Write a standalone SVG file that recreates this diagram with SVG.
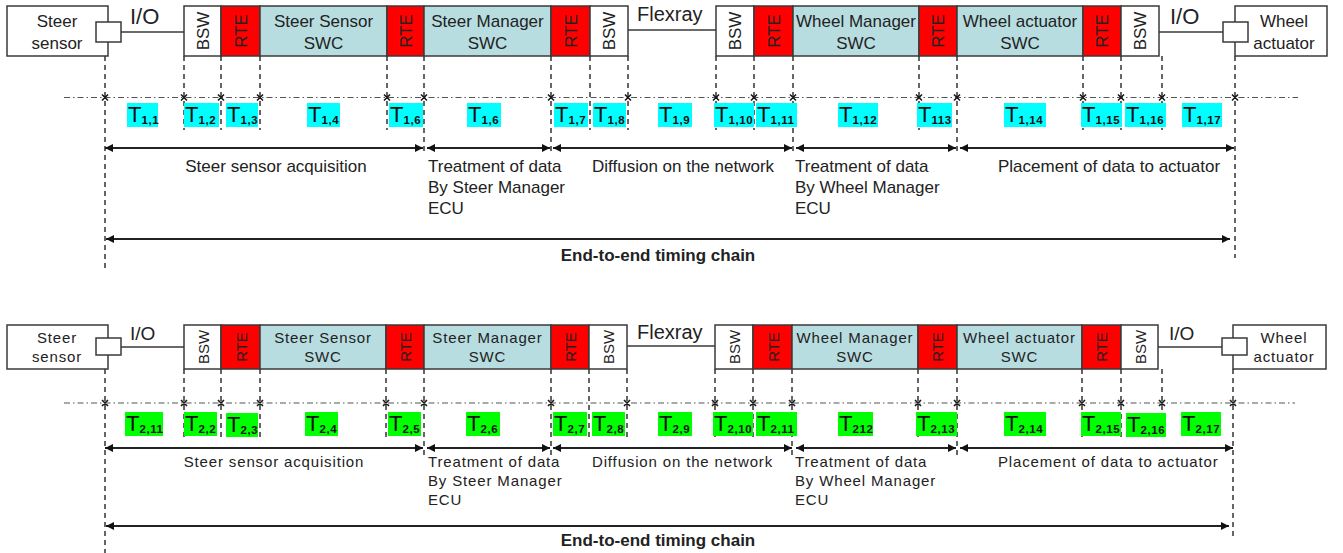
<svg xmlns="http://www.w3.org/2000/svg" width="1343" height="553" viewBox="0 0 1343 553">
<defs>
<style>
.bx{stroke:#3a3a3a;stroke-width:1.5}
.wh{fill:#ffffff}
.swc{fill:#b7dde0}
.rte{fill:#ff0000}
.f{font-family:"Liberation Sans",Arial,sans-serif;fill:#222}
.s17{font-size:17px}
.s15{font-size:15px;letter-spacing:0.85px}
.c{text-anchor:middle}
.vd{stroke:#333;stroke-width:1.5;stroke-dasharray:5 4;fill:none}
.dd{stroke:#555;stroke-width:1.2;stroke-dasharray:6 3 1.5 3;fill:none}
.xm{stroke:#1a1a1a;stroke-width:1.6;fill:none}
.ar{stroke:#222;stroke-width:1.8;marker-start:url(#ah);marker-end:url(#ah)}
.ln{stroke:#3a3a3a;stroke-width:1.5;fill:none}
.cy{fill:#00ffff}
.gr{fill:#00ff00}
.tl{font-family:"Liberation Sans",Arial,sans-serif;font-size:22px;fill:#111}
.sb{font-size:11.5px;font-weight:bold;letter-spacing:0.6px}
.b{font-weight:bold}
</style>
<marker id="ah" viewBox="0 0 10 10" refX="10" refY="5" markerWidth="9" markerHeight="8" markerUnits="userSpaceOnUse" orient="auto-start-reverse">
<path d="M0,0 L10,5 L0,10 z" fill="#111"/>
</marker>
</defs>
<rect width="1343" height="553" fill="#ffffff"/>

<!-- ================= PANEL 1 ================= -->
<g id="p1-guides">
<path class="vd" d="M105,56V268 M1235,56V258 M424,56V155 M551,56V155 M793,56V155 M957,56V155 M184,56V130 M221,56V130 M260,56V130 M387,56V130 M590,56V130 M628,56V130 M716,56V130 M754,56V130 M919,56V130 M1083,56V130 M1121,56V130 M1162,56V130"/>
<path class="dd" d="M64,97.5H1298"/>
<path class="xm" d="M102,94.5l6,6m0,-6l-6,6 M181,94.5l6,6m0,-6l-6,6 M218,94.5l6,6m0,-6l-6,6 M257,94.5l6,6m0,-6l-6,6 M384,94.5l6,6m0,-6l-6,6 M421,94.5l6,6m0,-6l-6,6 M548,94.5l6,6m0,-6l-6,6 M625,94.5l6,6m0,-6l-6,6 M713,94.5l6,6m0,-6l-6,6 M751,94.5l6,6m0,-6l-6,6 M790,94.5l6,6m0,-6l-6,6 M916,94.5l6,6m0,-6l-6,6 M954,94.5l6,6m0,-6l-6,6 M1080,94.5l6,6m0,-6l-6,6 M1118,94.5l6,6m0,-6l-6,6 M1159,94.5l6,6m0,-6l-6,6 M1232,94.5l6,6m0,-6l-6,6"/>
</g>

<g id="p1-connectors">
<path class="ln" d="M121,32H184 M628,30H716 M1159,32H1223"/>
</g>

<g id="p1-steer-sensor">
<rect class="bx wh" x="7" y="6" width="101" height="50"/>
<rect class="bx wh" x="96" y="22" width="25" height="20"/>
<text class="f s17 c" x="57" y="27">Steer</text>
<text class="f s17 c" x="57" y="49">sensor</text>
</g>
<text class="f" x="130" y="24" font-size="22">I/O</text>
<g id="p1-bsw1"><rect class="bx wh" x="184" y="6" width="37" height="50"/><text class="f s17 c" transform="translate(203,31) rotate(-90)" y="6">BSW</text></g>
<g id="p1-rte1"><rect class="bx rte" x="221" y="6" width="39" height="50"/><text class="f s17 c" transform="translate(241,31) rotate(-90)" y="6">RTE</text></g>
<g id="p1-steer-sensor-swc"><rect class="bx swc" x="260" y="6" width="127" height="50"/><text class="f s17 c" x="323.5" y="27">Steer Sensor</text><text class="f s17 c" x="323.5" y="49">SWC</text></g>
<g id="p1-rte2"><rect class="bx rte" x="387" y="6" width="37" height="50"/><text class="f s17 c" transform="translate(406,31) rotate(-90)" y="6">RTE</text></g>
<g id="p1-steer-manager-swc"><rect class="bx swc" x="424" y="6" width="127" height="50"/><text class="f s17 c" x="487.5" y="27">Steer Manager</text><text class="f s17 c" x="487.5" y="49">SWC</text></g>
<g id="p1-rte3"><rect class="bx rte" x="551" y="6" width="39" height="50"/><text class="f s17 c" transform="translate(571,31) rotate(-90)" y="6">RTE</text></g>
<g id="p1-bsw2"><rect class="bx wh" x="590" y="6" width="38" height="50"/><text class="f s17 c" transform="translate(609,31) rotate(-90)" y="6">BSW</text></g>
<text class="f" x="637" y="21" font-size="20">Flexray</text>
<g id="p1-bsw3"><rect class="bx wh" x="716" y="6" width="38" height="50"/><text class="f s17 c" transform="translate(735,31) rotate(-90)" y="6">BSW</text></g>
<g id="p1-rte4"><rect class="bx rte" x="754" y="6" width="39" height="50"/><text class="f s17 c" transform="translate(774,31) rotate(-90)" y="6">RTE</text></g>
<g id="p1-wheel-manager-swc"><rect class="bx swc" x="793" y="6" width="126" height="50"/><text class="f s17 c" x="856" y="27">Wheel Manager</text><text class="f s17 c" x="856" y="49">SWC</text></g>
<g id="p1-rte5"><rect class="bx rte" x="919" y="6" width="38" height="50"/><text class="f s17 c" transform="translate(938,31) rotate(-90)" y="6">RTE</text></g>
<g id="p1-wheel-actuator-swc"><rect class="bx swc" x="957" y="6" width="126" height="50"/><text class="f s17 c" x="1020" y="27">Wheel actuator</text><text class="f s17 c" x="1020" y="49">SWC</text></g>
<g id="p1-rte6"><rect class="bx rte" x="1083" y="6" width="38" height="50"/><text class="f s17 c" transform="translate(1102,31) rotate(-90)" y="6">RTE</text></g>
<g id="p1-bsw4"><rect class="bx wh" x="1121" y="6" width="38" height="50"/><text class="f s17 c" transform="translate(1140,31) rotate(-90)" y="6">BSW</text></g>
<text class="f" x="1170" y="24" font-size="22">I/O</text>
<g id="p1-wheel-actuator">
<rect class="bx wh" x="1235" y="6" width="92" height="50"/>
<rect class="bx wh" x="1223" y="22" width="25" height="20"/>
<text class="f s17 c" x="1284" y="27">Wheel</text>
<text class="f s17 c" x="1284" y="49">actuator</text>
</g>

<g id="p1-tlabels">
<rect class="cy" x="127" y="103" width="31" height="24"/><text class="tl" x="128" y="122">T<tspan class="sb" dy="2">1,1</tspan></text>
<rect class="cy" x="184" y="103" width="35" height="24"/><text class="tl" x="185" y="122">T<tspan class="sb" dy="2">1,2</tspan></text>
<rect class="cy" x="226" y="103" width="32" height="24"/><text class="tl" x="227" y="122">T<tspan class="sb" dy="2">1,3</tspan></text>
<rect class="cy" x="307" y="103" width="33" height="24"/><text class="tl" x="308" y="122">T<tspan class="sb" dy="2">1,4</tspan></text>
<rect class="cy" x="389" y="103" width="34" height="24"/><text class="tl" x="390" y="122">T<tspan class="sb" dy="2">1,6</tspan></text>
<rect class="cy" x="467" y="103" width="34" height="24"/><text class="tl" x="468" y="122">T<tspan class="sb" dy="2">1,6</tspan></text>
<rect class="cy" x="554" y="103" width="34" height="24"/><text class="tl" x="555" y="122">T<tspan class="sb" dy="2">1,7</tspan></text>
<rect class="cy" x="593" y="103" width="33" height="24"/><text class="tl" x="594" y="122">T<tspan class="sb" dy="2">1,8</tspan></text>
<rect class="cy" x="658" y="103" width="34" height="24"/><text class="tl" x="659" y="122">T<tspan class="sb" dy="2">1,9</tspan></text>
<rect class="cy" x="714" y="103" width="40" height="24"/><text class="tl" x="715" y="122">T<tspan class="sb" dy="2">1,10</tspan></text>
<rect class="cy" x="756" y="103" width="41" height="24"/><text class="tl" x="757" y="122">T<tspan class="sb" dy="2">1,11</tspan></text>
<rect class="cy" x="838" y="103" width="40" height="24"/><text class="tl" x="839" y="122">T<tspan class="sb" dy="2">1,12</tspan></text>
<rect class="cy" x="917" y="103" width="35" height="24"/><text class="tl" x="918" y="122">T<tspan class="sb" dy="2">113</tspan></text>
<rect class="cy" x="1004" y="103" width="42" height="24"/><text class="tl" x="1005" y="122">T<tspan class="sb" dy="2">1,14</tspan></text>
<rect class="cy" x="1081" y="103" width="41" height="24"/><text class="tl" x="1082" y="122">T<tspan class="sb" dy="2">1,15</tspan></text>
<rect class="cy" x="1125" y="103" width="41" height="24"/><text class="tl" x="1126" y="122">T<tspan class="sb" dy="2">1,16</tspan></text>
<rect class="cy" x="1182" y="103" width="40" height="24"/><text class="tl" x="1183" y="122">T<tspan class="sb" dy="2">1,17</tspan></text>
</g>

<g id="p1-spans">
<line class="ar" x1="105" y1="148" x2="423" y2="148"/>
<line class="ar" x1="427" y1="148" x2="550" y2="148"/>
<line class="ar" x1="553" y1="148" x2="792" y2="148"/>
<line class="ar" x1="796" y1="148" x2="956" y2="148"/>
<line class="ar" x1="960" y1="148" x2="1234" y2="148"/>
<line class="ar" x1="106" y1="239" x2="1230" y2="239"/>
</g>
<g id="p1-span-labels">
<text class="f s17 c" x="276" y="172">Steer sensor acquisition</text>
<text class="f s17" x="428" y="172">Treatment of data</text>
<text class="f s17" x="428" y="193">By Steer Manager</text>
<text class="f s17" x="428" y="214">ECU</text>
<text class="f s17" x="592" y="172">Diffusion on the network</text>
<text class="f s17" x="795" y="172">Treatment of data</text>
<text class="f s17" x="795" y="193">By Wheel Manager</text>
<text class="f s17" x="795" y="214">ECU</text>
<text class="f s17" x="998" y="172">Placement of data to actuator</text>
<text class="f s17 c b" x="658" y="261">End-to-end timing chain</text>
</g>

<!-- ================= PANEL 2 ================= -->
<g id="p2-guides">
<path class="vd" d="M105,369V553 M1233,369V540 M424,369V455 M551,369V455 M792,369V455 M957,369V455 M184,369V437 M221,369V437 M260,369V437 M386,369V437 M589,369V437 M627,369V437 M715,369V437 M753,369V437 M918,369V437 M1082,369V437 M1121,369V437 M1162,369V437"/>
<path class="dd" d="M64,403H1295"/>
<path class="xm" d="M102,400l6,6m0,-6l-6,6 M181,400l6,6m0,-6l-6,6 M218,400l6,6m0,-6l-6,6 M257,400l6,6m0,-6l-6,6 M383,400l6,6m0,-6l-6,6 M421,400l6,6m0,-6l-6,6 M548,400l6,6m0,-6l-6,6 M624,400l6,6m0,-6l-6,6 M712,400l6,6m0,-6l-6,6 M750,400l6,6m0,-6l-6,6 M789,400l6,6m0,-6l-6,6 M915,400l6,6m0,-6l-6,6 M954,400l6,6m0,-6l-6,6 M1079,400l6,6m0,-6l-6,6 M1118,400l6,6m0,-6l-6,6 M1159,400l6,6m0,-6l-6,6 M1230,400l6,6m0,-6l-6,6"/>
</g>

<g id="p2-connectors">
<path class="ln" d="M121,347H184 M627,346H715 M1158,347H1222"/>
</g>

<g id="p2-steer-sensor">
<rect class="bx wh" x="7" y="325" width="101" height="44"/>
<rect class="bx wh" x="96" y="338" width="25" height="17"/>
<text class="f s15 c" x="57" y="343">Steer</text>
<text class="f s15 c" x="57" y="362">sensor</text>
</g>
<text class="f" x="130" y="340" font-size="19">I/O</text>
<g id="p2-bsw1"><rect class="bx wh" x="184" y="325" width="37" height="44"/><text class="f c" font-size="15" transform="translate(203,347) rotate(-90)" y="5.5">BSW</text></g>
<g id="p2-rte1"><rect class="bx rte" x="221" y="325" width="39" height="44"/><text class="f c" font-size="15" transform="translate(241,347) rotate(-90)" y="5.5">RTE</text></g>
<g id="p2-steer-sensor-swc"><rect class="bx swc" x="260" y="325" width="126" height="44"/><text class="f s15 c" x="323" y="343">Steer Sensor</text><text class="f s15 c" x="323" y="362">SWC</text></g>
<g id="p2-rte2"><rect class="bx rte" x="386" y="325" width="38" height="44"/><text class="f c" font-size="15" transform="translate(405,347) rotate(-90)" y="5.5">RTE</text></g>
<g id="p2-steer-manager-swc"><rect class="bx swc" x="424" y="325" width="127" height="44"/><text class="f s15 c" x="487.5" y="343">Steer Manager</text><text class="f s15 c" x="487.5" y="362">SWC</text></g>
<g id="p2-rte3"><rect class="bx rte" x="551" y="325" width="38" height="44"/><text class="f c" font-size="15" transform="translate(570,347) rotate(-90)" y="5.5">RTE</text></g>
<g id="p2-bsw2"><rect class="bx wh" x="589" y="325" width="38" height="44"/><text class="f c" font-size="15" transform="translate(608,347) rotate(-90)" y="5.5">BSW</text></g>
<text class="f" x="637" y="339" font-size="20">Flexray</text>
<g id="p2-bsw3"><rect class="bx wh" x="715" y="325" width="38" height="44"/><text class="f c" font-size="15" transform="translate(734,347) rotate(-90)" y="5.5">BSW</text></g>
<g id="p2-rte4"><rect class="bx rte" x="753" y="325" width="39" height="44"/><text class="f c" font-size="15" transform="translate(773,347) rotate(-90)" y="5.5">RTE</text></g>
<g id="p2-wheel-manager-swc"><rect class="bx swc" x="792" y="325" width="126" height="44"/><text class="f s15 c" x="855" y="343">Wheel Manager</text><text class="f s15 c" x="855" y="362">SWC</text></g>
<g id="p2-rte5"><rect class="bx rte" x="918" y="325" width="39" height="44"/><text class="f c" font-size="15" transform="translate(937,347) rotate(-90)" y="5.5">RTE</text></g>
<g id="p2-wheel-actuator-swc"><rect class="bx swc" x="957" y="325" width="125" height="44"/><text class="f s15 c" x="1019.5" y="343">Wheel actuator</text><text class="f s15 c" x="1019.5" y="362">SWC</text></g>
<g id="p2-rte6"><rect class="bx rte" x="1082" y="325" width="39" height="44"/><text class="f c" font-size="15" transform="translate(1101,347) rotate(-90)" y="5.5">RTE</text></g>
<g id="p2-bsw4"><rect class="bx wh" x="1121" y="325" width="37" height="44"/><text class="f c" font-size="15" transform="translate(1140,347) rotate(-90)" y="5.5">BSW</text></g>
<text class="f" x="1169" y="340" font-size="19">I/O</text>
<g id="p2-wheel-actuator">
<rect class="bx wh" x="1233" y="325" width="93" height="44"/>
<rect class="bx wh" x="1222" y="338" width="25" height="17"/>
<text class="f s15 c" x="1284" y="343">Wheel</text>
<text class="f s15 c" x="1284" y="362">actuator</text>
</g>

<g id="p2-tlabels">
<rect class="gr" x="125" y="412" width="38" height="24"/><text class="tl" x="126" y="431">T<tspan class="sb" dy="2">2,11</tspan></text>
<rect class="gr" x="184" y="412" width="33" height="24"/><text class="tl" x="185" y="431">T<tspan class="sb" dy="2">2,2</tspan></text>
<rect class="gr" x="226" y="413" width="32" height="24"/><text class="tl" x="227" y="432">T<tspan class="sb" dy="2">2,3</tspan></text>
<rect class="gr" x="305" y="412" width="33" height="24"/><text class="tl" x="306" y="431">T<tspan class="sb" dy="2">2,4</tspan></text>
<rect class="gr" x="388" y="412" width="33" height="24"/><text class="tl" x="389" y="431">T<tspan class="sb" dy="2">2,5</tspan></text>
<rect class="gr" x="466" y="412" width="34" height="24"/><text class="tl" x="467" y="431">T<tspan class="sb" dy="2">2,6</tspan></text>
<rect class="gr" x="553" y="412" width="34" height="24"/><text class="tl" x="554" y="431">T<tspan class="sb" dy="2">2,7</tspan></text>
<rect class="gr" x="592" y="412" width="33" height="24"/><text class="tl" x="593" y="431">T<tspan class="sb" dy="2">2,8</tspan></text>
<rect class="gr" x="658" y="412" width="34" height="24"/><text class="tl" x="659" y="431">T<tspan class="sb" dy="2">2,9</tspan></text>
<rect class="gr" x="713" y="412" width="40" height="24"/><text class="tl" x="714" y="431">T<tspan class="sb" dy="2">2,10</tspan></text>
<rect class="gr" x="756" y="412" width="41" height="24"/><text class="tl" x="757" y="431">T<tspan class="sb" dy="2">2,11</tspan></text>
<rect class="gr" x="838" y="412" width="35" height="24"/><text class="tl" x="839" y="431">T<tspan class="sb" dy="2">212</tspan></text>
<rect class="gr" x="916" y="412" width="41" height="24"/><text class="tl" x="917" y="431">T<tspan class="sb" dy="2">2,13</tspan></text>
<rect class="gr" x="1004" y="412" width="42" height="24"/><text class="tl" x="1005" y="431">T<tspan class="sb" dy="2">2,14</tspan></text>
<rect class="gr" x="1081" y="412" width="40" height="24"/><text class="tl" x="1082" y="431">T<tspan class="sb" dy="2">2,15</tspan></text>
<rect class="gr" x="1126" y="413" width="40" height="24"/><text class="tl" x="1127" y="432">T<tspan class="sb" dy="2">2,16</tspan></text>
<rect class="gr" x="1181" y="412" width="40" height="24"/><text class="tl" x="1182" y="431">T<tspan class="sb" dy="2">2,17</tspan></text>
</g>

<g id="p2-spans">
<line class="ar" x1="105" y1="448" x2="423" y2="448"/>
<line class="ar" x1="427" y1="448" x2="550" y2="448"/>
<line class="ar" x1="553" y1="448" x2="792" y2="448"/>
<line class="ar" x1="796" y1="448" x2="956" y2="448"/>
<line class="ar" x1="960" y1="448" x2="1233" y2="448"/>
<line class="ar" x1="106" y1="526" x2="1229" y2="526"/>
</g>
<g id="p2-span-labels">
<text class="f s15 c" x="274" y="467">Steer sensor acquisition</text>
<text class="f s15" x="428" y="467">Treatment of data</text>
<text class="f s15" x="428" y="486">By Steer Manager</text>
<text class="f s15" x="428" y="505">ECU</text>
<text class="f s15" x="592" y="467">Diffusion on the network</text>
<text class="f s15" x="795" y="467">Treatment of data</text>
<text class="f s15" x="795" y="486">By Wheel Manager</text>
<text class="f s15" x="795" y="505">ECU</text>
<text class="f s15" x="998" y="467">Placement of data to actuator</text>
<text class="f s17 c b" x="658" y="546">End-to-end timing chain</text>
</g>
</svg>
